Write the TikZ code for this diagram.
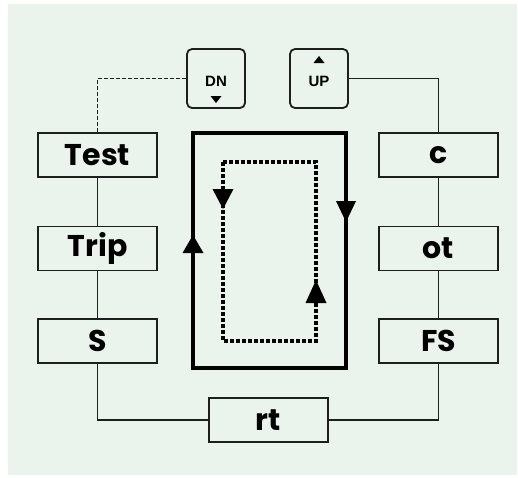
\documentclass[tikz,border=0pt]{standalone}
\usepackage{fontspec}
\setmainfont{Poppins}
\newfontfamily\keyfont{Liberation Sans}
\usetikzlibrary{positioning}

\definecolor{panelbg}{HTML}{EAF4EC}
\definecolor{ink}{HTML}{1E1E1E}

\begin{document}
\begin{tikzpicture}[
  x=1pt, y=-1pt,
  stepbox/.style={draw=ink, line width=1.8pt, minimum width=119pt, minimum height=44pt,
    inner sep=0pt, font=\fontsize{30}{30}\selectfont\bfseries},
  keybox/.style={draw=ink, line width=1.8pt, rounded corners=5pt, minimum width=58pt,
    minimum height=59pt, inner sep=0pt},
  keytext/.style={inner sep=0pt, font=\keyfont\fontsize{15}{15}\selectfont\bfseries},
  link/.style={draw=ink, line width=1.7pt},
  dashlink/.style={link, dash pattern=on 4pt off 2pt},
  loopline/.style={draw=black, line width=3.8pt},
  dotline/.style={draw=black, line width=3.6pt, dash pattern=on 3.6pt off 2.4pt}
]
\useasboundingbox (0,0) rectangle (518,477);
\fill[white] (0,0) rectangle (518,477);
\fill[panelbg] (8,4) rectangle (517,475);

% --- step boxes ---
\node[stepbox] (test) at (97.5,155) {Test};
\node[stepbox] (trip) at (97.5,248.5) {Trip};
\node[stepbox] (s)    at (97.5,341) {S};
\node[stepbox] (c)    at (438.5,155) {c};
\node[stepbox] (ot)   at (438.5,248.5) {ot};
\node[stepbox] (fs)   at (438.5,341) {FS};
\node[stepbox] (rt)   at (268.5,420) {rt};

% --- keys ---
\node[keybox] (dn) at (216,78.5) {};
\node[keybox] (up) at (319,78.5) {};
\node[keytext] (dnlbl) at (216,81) {DN};
\node[keytext] (uplbl) at (319,81) {UP};
\fill[black] (210.5,96) -- (221.5,96) -- (216,103) -- cycle;
\fill[black] (313.5,63) -- (324.5,63) -- (319,56) -- cycle;

% --- connectors ---
\draw[dashlink] (dn.west) -| (test.north);
\draw[link] (up.east) -| (c.north);
\draw[link] (test) -- (trip);
\draw[link] (trip) -- (s);
\draw[link] (c) -- (ot);
\draw[link] (ot) -- (fs);
\draw[link] (s.south) |- (rt.west);
\draw[link] (fs.south) |- (rt.east);

% --- cycle ---
\draw[loopline] (193,133) rectangle (346,368);
\fill[black] (182.5,253) -- (203.5,253) -- (193,235) -- cycle;
\fill[black] (336,201) -- (356,201) -- (346,222) -- cycle;
\draw[dotline] (223,162) rectangle (316,341);
\fill[black] (212.5,189) -- (233.5,189) -- (223,209) -- cycle;
\fill[black] (305.5,303) -- (326.5,303) -- (316,280) -- cycle;

\end{tikzpicture}
\end{document}
